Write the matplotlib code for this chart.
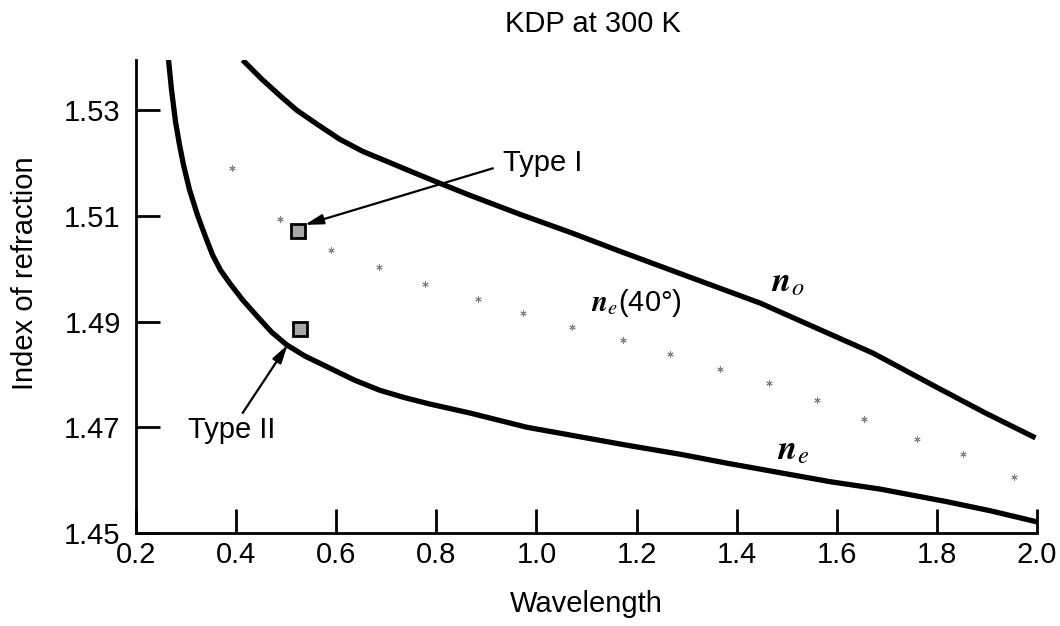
import matplotlib
matplotlib.use("Agg")
import matplotlib.pyplot as plt

plt.rcParams["font.family"] = ["Liberation Sans", "DejaVu Sans"]
plt.rcParams["mathtext.fontset"] = "stix"

# wavelength (um) and index values
wl_o = [0.413, 0.451, 0.487, 0.521, 0.561, 0.607, 0.653, 0.699, 0.747, 0.801,
        0.867, 0.967, 1.067, 1.167, 1.301, 1.447, 1.573, 1.673, 1.807, 1.897, 1.997]
n_o = [1.5395, 1.5359, 1.5328, 1.5300, 1.5274, 1.5245, 1.5222, 1.5204, 1.5185, 1.5164,
       1.5139, 1.5103, 1.5069, 1.5033, 1.4986, 1.4935, 1.4882, 1.4840, 1.4772, 1.4727, 1.4680]

wl_e = [0.265, 0.271, 0.279, 0.287, 0.295, 0.307, 0.323, 0.339, 0.353, 0.369,
        0.387, 0.413, 0.443, 0.471, 0.501, 0.537, 0.587, 0.637, 0.687, 0.737,
        0.787, 0.867, 0.981, 1.087, 1.181, 1.287, 1.381, 1.487, 1.587, 1.687,
        1.821, 1.907, 2.0]
n_e = [1.5395, 1.5338, 1.5278, 1.5234, 1.5196, 1.5149, 1.5101, 1.5060, 1.5026, 1.4997,
       1.4973, 1.4941, 1.4909, 1.4880, 1.4856, 1.4835, 1.4812, 1.4789, 1.4770, 1.4756,
       1.4744, 1.4727, 1.4700, 1.4682, 1.4666, 1.4649, 1.4632, 1.4614, 1.4597, 1.4583,
       1.4559, 1.4542, 1.4521]

wl_40 = [0.391, 0.487, 0.589, 0.686, 0.777, 0.883, 0.974, 1.071, 1.173,
         1.267, 1.366, 1.464, 1.561, 1.655, 1.760, 1.852, 1.954]
n_40 = [1.5190, 1.5095, 1.5035, 1.5004, 1.4971, 1.4942, 1.4916, 1.4890, 1.4865,
        1.4839, 1.4811, 1.4783, 1.4752, 1.4716, 1.4678, 1.4649, 1.4606]

# phase-matching points (Type I, Type II)
pm_wl = [0.523, 0.527]
pm_n = [1.5071, 1.4886]

xticks = [0.2, 0.4, 0.6, 0.8, 1.0, 1.2, 1.4, 1.6, 1.8, 2.0]
yticks = [1.45, 1.47, 1.49, 1.51, 1.53]

fig = plt.figure(figsize=(10.6, 6.26), dpi=100)
ax = fig.add_axes([0.1283, 0.1486, 0.85, 0.7556])

ax.plot(wl_o, n_o, color="black", lw=3.8, solid_capstyle="butt", solid_joinstyle="round")
ax.plot(wl_e, n_e, color="black", lw=3.8, solid_capstyle="butt", solid_joinstyle="round")
ax.plot(wl_40, n_40, ls="none", marker=(6, 2, 0), ms=4.5, mew=0.7, color="#808080")
ax.plot(pm_wl, pm_n, ls="none", marker="s", ms=10, mfc="#a8a8a8", mec="black", mew=2)

arrow = dict(arrowstyle="-|>,head_length=1.1,head_width=0.3", color="black", lw=1.6,
             shrinkA=0, shrinkB=0)
ax.annotate("", xy=(0.537, 1.5083), xytext=(0.913, 1.5190), arrowprops=arrow)
ax.text(0.933, 1.5200, "Type I", fontsize=21, ha="left", va="center")
ax.annotate("", xy=(0.503, 1.4856), xytext=(0.413, 1.4727), arrowprops=arrow)
ax.text(0.391, 1.4695, "Type II", fontsize=21, ha="center", va="center")

ax.text(1.501, 1.4975, r"$\mathbfit{n}_o$", fontsize=25, ha="center", va="center")
ax.text(1.513, 1.4657, r"$\mathbfit{n}_e$", fontsize=25, ha="center", va="center")
ax.text(1.199, 1.4935, r"$\mathbfit{n}_e$(40°)", fontsize=21, ha="center", va="center")

ax.set_xlim(0.2, 2.0)
ax.set_ylim(1.45, 1.5395)
ax.set_xticks(xticks)
ax.set_xticklabels([f"{v:.1f}" for v in xticks])
ax.set_yticks(yticks)
ax.set_yticklabels([f"{v:.2f}" for v in yticks])
ax.tick_params(direction="in", length=17, width=2, labelsize=21)
ax.tick_params(axis="x", pad=6)
ax.tick_params(axis="y", pad=11)

for s in ["top", "right"]:
    ax.spines[s].set_visible(False)
for s in ["left", "bottom"]:
    ax.spines[s].set_linewidth(2)

ax.set_xlabel("Wavelength", fontsize=21)
ax.xaxis.set_label_coords(0.5, -0.12)
ax.set_ylabel("Index of refraction", fontsize=21)
ax.yaxis.set_label_coords(-0.108, 0.55)

fig.text(593 / 1060, 1 - 24 / 626, "KDP at 300 K", fontsize=21, ha="center", va="center")

fig.savefig("out.png", dpi=100)
